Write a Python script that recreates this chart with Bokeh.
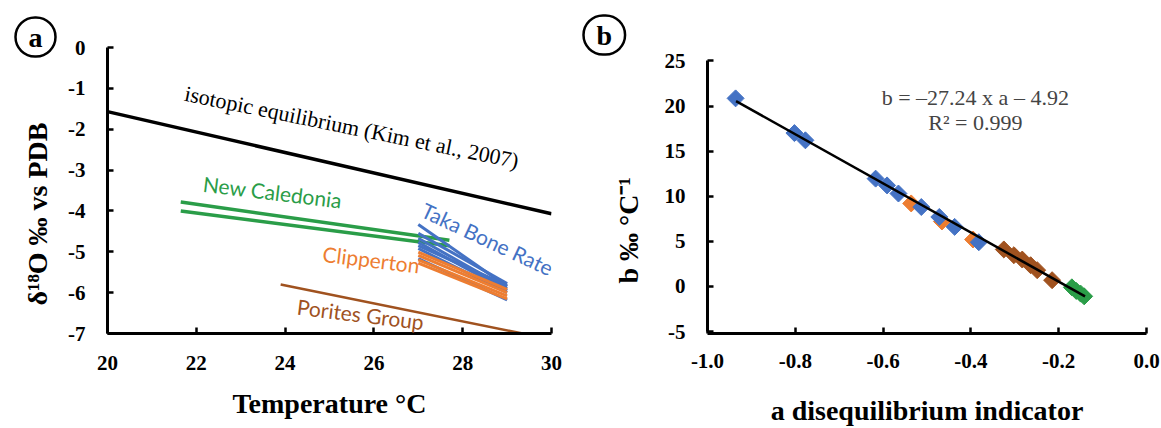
import numpy as np
from bokeh.plotting import figure
from bokeh.models import Label, Title, FixedTicker, PrintfTickFormatter, Range1d
from bokeh.layouts import row
from bokeh.embed import file_html
from bokeh.resources import INLINE

# ---------------- Panel a data ----------------
a_xticks = [20, 22, 24, 26, 28, 30]
a_yticks = [-7, -6, -5, -4, -3, -2, -1, 0]
equil_t = [20.0, 30.0]
equil_d = [-1.57, -4.07]
nc_t = [21.65, 27.7]
nc_top = [-3.78, -4.72]
nc_bot = [-4.0, -4.85]
tbr_t = [27.0, 29.0]
tbr_start = [-4.33, -4.55, -4.67, -4.77, -4.85, -4.92, -5.17]
tbr_end = [-5.85, -5.78, -5.9, -5.95, -5.82, -6.0, -6.18]
clip_t = [27.0, 29.0]
clip_start = [-5.01, -5.09, -5.2, -5.28]
clip_end = [-5.92, -6.0, -6.08, -6.15]
por_t = [23.9, 29.35]
por_d = [-5.8, -7.0]

# ---------------- Panel b data ----------------
b_xticks = [-1.0, -0.8, -0.6, -0.4, -0.2, 0.0]
b_yticks = [-5, 0, 5, 10, 15, 20, 25]
blue_a = [-0.936, -0.802, -0.777, -0.617, -0.591, -0.565, -0.513, -0.472, -0.437, -0.382]
blue_b = [20.85, 17.0, 16.2, 11.95, 11.2, 10.3, 8.8, 7.7, 6.6, 4.9]
orange_a = [-0.536, -0.466, -0.395]
orange_b = [9.2, 7.2, 5.2]
brown_a = [-0.325, -0.302, -0.283, -0.264, -0.249, -0.215]
brown_b = [4.1, 3.46, 2.98, 2.35, 1.8, 0.69]
green_a = [-0.17, -0.16, -0.15, -0.142]
green_b = [-0.1, -0.5, -0.8, -1.1]
fit_slope = -27.24
fit_intercept = -4.92
fit_a = [-0.935, -0.14]

BLUE = "#4472C4"
ORANGE = "#ED7D31"
GREEN = "#2A9D48"
BROWN = "#A0521F"
SERIF = "Liberation Serif"
SANS = "Lato"


def style(p):
    for ax in (p.xaxis[0], p.yaxis[0]):
        ax.axis_line_width = 3
        ax.axis_line_color = "black"
        ax.major_tick_in = 6
        ax.major_tick_out = 0
        ax.major_tick_line_width = 2.5
        ax.major_tick_line_color = "black"
        ax.minor_tick_line_color = None
        ax.major_label_text_font = SERIF
        ax.major_label_text_font_style = "bold"
        ax.major_label_text_font_size = "21px"
        ax.major_label_text_color = "black"
        ax.axis_label_text_font = SERIF
        ax.axis_label_text_font_style = "bold"
        ax.axis_label_text_font_size = "28px"
        ax.axis_label_text_color = "black"
    p.xgrid.visible = False
    p.ygrid.visible = False
    p.outline_line_color = None


def ytitle(p, text, offset, standoff):
    p.add_layout(Title(text=text, align="left", vertical_align="top", offset=offset,
                       standoff=standoff, text_font=SERIF, text_font_style="bold",
                       text_font_size="28px", text_color="black"), "left")


def circled(p, letter, offset, standoff):
    kw = dict(text=letter, align="left", vertical_align="bottom", offset=offset,
              text_font=SERIF, text_font_style="bold",
              text_font_size="28px", text_color="black",
              border_line_color="black", border_line_width=2.5,
              border_radius=20, padding=(13, 4))
    try:
        t = Title(standoff=standoff, **kw)
    except Exception:
        t = Title(standoff=0, **kw)
    p.add_layout(t, "above")


# ---------------- Panel a ----------------
pa = figure(width=580, height=428, x_range=Range1d(20, 30), y_range=Range1d(-7, 0),
            output_backend="svg", toolbar_location=None,
            min_border_left=107, min_border_right=29, min_border_top=47, min_border_bottom=95)
style(pa)
pa.xaxis[0].ticker = FixedTicker(ticks=a_xticks)
pa.yaxis[0].ticker = FixedTicker(ticks=a_yticks)
pa.xaxis[0].formatter = PrintfTickFormatter(format="%d")
pa.yaxis[0].formatter = PrintfTickFormatter(format="%d")
pa.xaxis[0].major_label_standoff = 22
pa.yaxis[0].major_label_standoff = 22
pa.xaxis[0].axis_label = "Temperature °C"
pa.xaxis[0].axis_label_standoff = 15

pa.line(equil_t, equil_d, line_color="black", line_width=3.5)
pa.line(nc_t, nc_top, line_color=GREEN, line_width=3.5)
pa.line(nc_t, nc_bot, line_color=GREEN, line_width=3.5)
for s, e in zip(tbr_start, tbr_end):
    pa.line(tbr_t, [s, e], line_color=BLUE, line_width=3)
for s, e in zip(clip_start, clip_end):
    pa.line(clip_t, [s, e], line_color=ORANGE, line_width=3)
pa.line(por_t, por_d, line_color=BROWN, line_width=2.5)

pa.add_layout(Label(x=25.5, y=-1.95, text="isotopic equilibrium (Kim et al., 2007)",
                    angle=np.deg2rad(-11.5), text_font=SERIF, text_font_size="22px",
                    text_color="black", text_align="center", text_baseline="middle"))
pa.add_layout(Label(x=23.72, y=-3.53, text="New Caledonia", angle=np.deg2rad(-7),
                    text_font=SANS, text_font_size="21px", text_color=GREEN,
                    text_align="center", text_baseline="middle"))
pa.add_layout(Label(x=28.56, y=-4.68, text="Taka Bone Rate", angle=np.deg2rad(-25),
                    text_font=SANS, text_font_size="21px", text_color=BLUE,
                    text_align="center", text_baseline="middle"))
pa.add_layout(Label(x=25.94, y=-5.18, text="Clipperton", angle=np.deg2rad(-7),
                    text_font=SANS, text_font_size="21px", text_color=ORANGE,
                    text_align="center", text_baseline="middle"))
pa.add_layout(Label(x=25.7, y=-6.52, text="Porites Group", angle=np.deg2rad(-7),
                    text_font=SANS, text_font_size="21px", text_color=BROWN,
                    text_align="center", text_baseline="middle"))
ytitle(pa, "δ¹⁸O  ‰ vs PDB", 28, 22)
circled(pa, "a", -92, -18)

# ---------------- Panel b ----------------
pb = figure(width=581, height=428, x_range=Range1d(-1.0, 0.0), y_range=Range1d(-5.221, 26.49),
            output_backend="svg", toolbar_location=None,
            min_border_left=127, min_border_right=15, min_border_top=47, min_border_bottom=95)
style(pb)
pb.yaxis[0].bounds = (-5, 25)
pb.xaxis[0].ticker = FixedTicker(ticks=b_xticks)
pb.yaxis[0].ticker = FixedTicker(ticks=b_yticks)
pb.xaxis[0].formatter = PrintfTickFormatter(format="%.1f")
pb.yaxis[0].formatter = PrintfTickFormatter(format="%d")
pb.xaxis[0].major_label_standoff = 20
pb.yaxis[0].major_label_standoff = 22
pb.xaxis[0].axis_label = "a disequilibrium indicator"
pb.xaxis[0].axis_label_standoff = 24

msize = 12
ang = np.pi / 4
pb.scatter(orange_a, orange_b, marker="square", size=msize, angle=ang,
           fill_color=ORANGE, line_color=ORANGE)
pb.scatter(blue_a, blue_b, marker="square", size=msize, angle=ang,
           fill_color=BLUE, line_color=BLUE)
pb.scatter(brown_a, brown_b, marker="square", size=msize, angle=ang,
           fill_color=BROWN, line_color=BROWN)
pb.scatter(green_a, green_b, marker="square", size=msize, angle=ang,
           fill_color=GREEN, line_color=GREEN)
fit_b = [fit_slope * a + fit_intercept for a in fit_a]
pb.line(fit_a, fit_b, line_color="black", line_width=2.5)

pb.add_layout(Label(x=-0.39, y=20.96, text="b = –27.24 x a – 4.92", text_font=SERIF,
                    text_font_size="22px", text_align="center", text_baseline="middle"))
pb.add_layout(Label(x=-0.39, y=18.19, text="R² = 0.999", text_font=SERIF,
                    text_font_size="22px", text_align="center", text_baseline="middle"))
ytitle(pb, "b ‰ °C⁻¹", 50, 32)
circled(pb, "b", -124, -14)

layout = row(pa, pb)
open("out.html", "w").write(file_html(layout, INLINE))
